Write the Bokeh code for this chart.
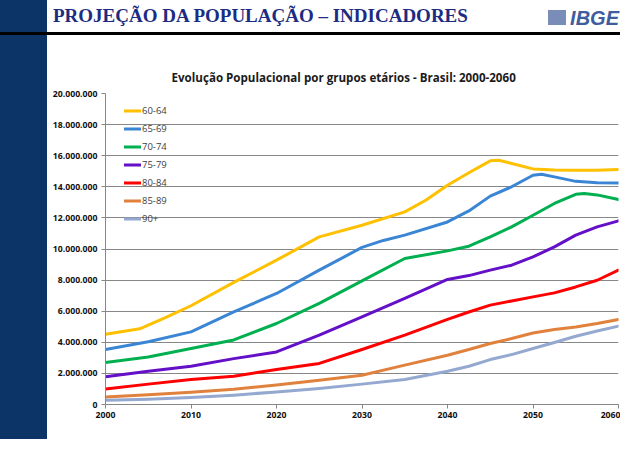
from bokeh.plotting import figure
from bokeh.layouts import row, column
from bokeh.models import Range1d, FixedTicker, Div
from bokeh.embed import file_html
from bokeh.resources import INLINE

# ---------------- data ----------------
slide_title = "PROJEÇÃO DA POPULAÇÃO – INDICADORES"
chart_title = "Evolução Populacional por grupos etários - Brasil: 2000-2060"
logo_text = "IBGE"

groups = ["60-64", "65-69", "70-74", "75-79", "80-84", "85-89", "90+"]

# common sampling years (population in millions)
years = [2000, 2005, 2010, 2015, 2020, 2025, 2030, 2035, 2040,
         2042.5, 2045, 2047.5, 2050, 2052.5, 2055, 2057.5, 2060]

years_60_64 = [2000, 2004, 2007, 2010, 2015, 2020, 2025, 2030, 2035, 2037.5, 2040,
               2042.5, 2045, 2046, 2047.5, 2050, 2052.5, 2055, 2057.5, 2060]
pop_60_64 = [4.52, 4.87, 5.59, 6.35, 7.85, 9.28, 10.78, 11.53, 12.39, 13.15, 14.10,
             14.90, 15.67, 15.71, 15.50, 15.15, 15.08, 15.07, 15.07, 15.11]

years_65_69 = [2000, 2005, 2010, 2015, 2020, 2025, 2030, 2032.5, 2035, 2040,
               2042.5, 2045, 2047.5, 2050, 2051, 2052.5, 2055, 2057.5, 2060]
pop_65_69 = [3.54, 4.03, 4.67, 5.95, 7.14, 8.64, 10.10, 10.55, 10.89, 11.74,
             12.45, 13.40, 14.00, 14.74, 14.81, 14.64, 14.35, 14.26, 14.25]

years_70_74 = [2000, 2005, 2010, 2015, 2020, 2025, 2030, 2035, 2040,
               2042.5, 2045, 2047.5, 2050, 2052.5, 2055, 2056, 2057.5, 2060]
pop_70_74 = [2.70, 3.06, 3.60, 4.15, 5.21, 6.50, 7.95, 9.39, 9.88,
             10.18, 10.78, 11.42, 12.17, 12.93, 13.52, 13.57, 13.48, 13.18]

pop_75_79 = [1.78, 2.14, 2.46, 2.95, 3.38, 4.46, 5.63, 6.82, 8.04,
             8.29, 8.64, 8.96, 9.49, 10.14, 10.89, 11.42, 11.81]
pop_80_84 = [1.00, 1.31, 1.61, 1.82, 2.25, 2.64, 3.54, 4.46, 5.47,
             5.95, 6.39, 6.66, 6.92, 7.18, 7.56, 7.99, 8.64]
pop_85_89 = [0.49, 0.62, 0.79, 0.98, 1.26, 1.56, 1.88, 2.53, 3.17,
             3.54, 3.92, 4.24, 4.60, 4.82, 4.99, 5.21, 5.47]
pop_90_plus = [0.28, 0.34, 0.45, 0.60, 0.81, 1.03, 1.31, 1.61, 2.14,
               2.46, 2.89, 3.21, 3.60, 3.99, 4.39, 4.73, 5.04]

series_x = [years_60_64, years_65_69, years_70_74, years, years, years, years]
series_y = [pop_60_64, pop_65_69, pop_70_74, pop_75_79, pop_80_84, pop_85_89, pop_90_plus]
colors = ["#FFC000", "#3A86D4", "#00B050", "#6410C8", "#FF0000", "#E0823D", "#94A8D0"]

x_ticks = [2000, 2010, 2020, 2030, 2040, 2050, 2060]
x_tick_labels = ["2000", "2010", "2020", "2030", "2040", "2050", "2060"]
y_ticks = [0, 2, 4, 6, 8, 10, 12, 14, 16, 18, 20]
y_tick_labels = ["0", "2.000.000", "4.000.000", "6.000.000", "8.000.000", "10.000.000",
                 "12.000.000", "14.000.000", "16.000.000", "18.000.000", "20.000.000"]

NAVY = "#0C3467"
TITLE_BLUE = "#1C2C82"
GRID = "#878787"

W, H = 620, 439          # whole slide
BAR_W = 47               # navy band on the left
HEAD_H = 35              # header incl. black rule

# ---------------- header (HTML decoration) ----------------
header_html = f"""
<div style="position:relative;width:{W}px;height:{HEAD_H}px;overflow:hidden;">
  <div style="position:absolute;left:0;top:0;width:{BAR_W}px;height:32px;background:{NAVY};"></div>
  <div style="position:absolute;left:0;top:32px;width:{W}px;height:3px;background:#000;"></div>
  <div style="position:absolute;left:53px;top:6px;white-space:nowrap;line-height:1;
              font-family:'Liberation Serif';font-weight:bold;font-size:19px;color:{TITLE_BLUE};">{slide_title}</div>
  <div style="position:absolute;left:548px;top:10px;width:18px;height:15px;background:#7A8DB8;"></div>
  <div style="position:absolute;right:1px;top:8px;white-space:nowrap;line-height:1;
              font-family:'Liberation Sans';font-weight:bold;font-style:italic;font-size:20px;color:#3E5C9E;">{logo_text}</div>
</div>
"""
header = Div(text=header_html, width=W, height=HEAD_H, styles={"margin": "0", "padding": "0"})
band = Div(text=f'<div style="width:{BAR_W}px;height:{H - HEAD_H}px;background:{NAVY};"></div>',
           width=BAR_W, height=H - HEAD_H, styles={"margin": "0", "padding": "0"})

# ---------------- chart ----------------
p = figure(width=W - BAR_W, height=H - HEAD_H, output_backend="svg", toolbar_location=None,
           x_range=Range1d(2000, 2060), y_range=Range1d(0, 20),
           min_border_left=58, min_border_right=2, min_border_top=58, min_border_bottom=35,
           background_fill_color="white", border_fill_color="white", outline_line_color=None)

for g, xs, ys, c in zip(groups, series_x, series_y, colors):
    p.line(xs, ys, line_color=c, line_width=3, line_join="round", line_cap="round",
           legend_label=g)

p.title.text = chart_title
p.title.text_font = "Open Sans"
p.title.text_font_style = "bold"
p.title.text_font_size = "11.6px"
p.title.text_color = "#1a1a1a"
p.title.align = "left"
p.title.offset = 66
p.title.standoff = 17

p.xaxis.ticker = FixedTicker(ticks=x_ticks)
p.xaxis.major_label_overrides = dict(zip(x_ticks, x_tick_labels))
p.yaxis.ticker = FixedTicker(ticks=y_ticks)
p.yaxis.major_label_overrides = dict(zip(y_ticks, y_tick_labels))
for ax in (p.xaxis[0], p.yaxis[0]):
    ax.axis_line_color = GRID
    ax.axis_line_width = 1
    ax.major_tick_line_color = GRID
    ax.major_tick_out = 4
    ax.major_tick_in = 0
    ax.minor_tick_line_color = None
    ax.major_label_text_font = "Open Sans"
    ax.major_label_text_font_style = "bold"
    ax.major_label_text_font_size = "8.7px"
    ax.major_label_text_color = "#111111"
p.yaxis.major_label_standoff = 4
p.xaxis.major_label_standoff = 3
p.xgrid.visible = False
p.ygrid.ticker = FixedTicker(ticks=y_ticks)
p.ygrid.grid_line_color = GRID
p.ygrid.grid_line_width = 1

lg = p.legend[0]
lg.location = (19, 179)
lg.padding = 0
lg.margin = 0
lg.spacing = 5
lg.glyph_height = 13
lg.glyph_width = 17
lg.label_height = 13
lg.label_standoff = 1
lg.background_fill_alpha = 0
lg.border_line_alpha = 0
lg.label_text_font = "Open Sans"
lg.label_text_font_size = "9.5px"
lg.label_text_color = "#404040"

layout = column(header, row(band, p))

open("out.html", "w").write(file_html(layout, INLINE))
